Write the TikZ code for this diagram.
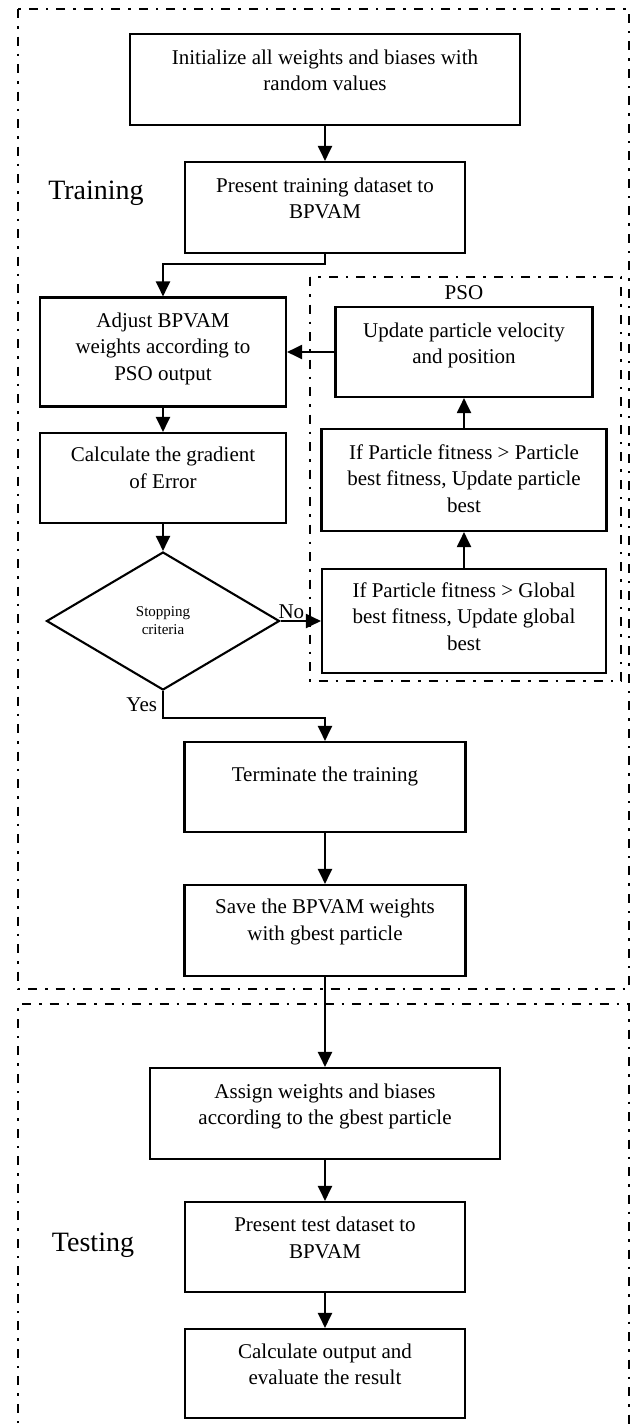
\documentclass[tikz,border=0pt]{standalone}
\usepackage{fontspec}
\setmainfont{Liberation Serif}
\usepackage{tikz}
\usetikzlibrary{arrows.meta,positioning,calc,shapes.geometric}
\tikzset{
  stepbox/.style={draw, line width=2.1pt, align=center, minimum width=280pt, minimum height=91pt, inner sep=2pt, font=\fontsize{21}{26.5}\selectfont},
  lift/.style={text depth=#1},
  decbox/.style={draw, diamond, line width=2.1pt, align=center, minimum width=233pt, minimum height=138pt, inner sep=0pt, font=\fontsize{15}{18}\selectfont},
  groupframe/.style={line width=2pt, dash pattern=on 9pt off 8pt on 2.5pt off 8pt},
  cline/.style={-{Triangle[length=15pt, width=14pt]}, line width=2pt},
  lbl/.style={font=\fontsize{21}{26}\selectfont, inner sep=1pt},
  phase/.style={font=\fontsize{28}{32}\selectfont},
}

\begin{document}
\begin{tikzpicture}[>=Latex, x=1pt, y=-1pt]
  \useasboundingbox (0,0) rectangle (635,1427);

  % training / testing / PSO frames
  \draw[groupframe] (18,9) rectangle (629,989);
  \draw[groupframe] (18,1440) -- (18,1004) -- (629,1004) -- (629,1440);
  \draw[groupframe] (310,277) rectangle (621,681);

  \node[phase] (train) at (96,193) {Training};
  \node[phase] (test) at (93,1245) {Testing};
  \node[lbl] (pso) at (464,293) {PSO};

  \node[stepbox, minimum width=390pt, lift=19pt] (init) at (325,79.5) {Initialize all weights and biases with\\random values};
  \node[stepbox, lift=19pt] (pres) at (325,207.5) {Present training dataset to\\BPVAM};
  \node[stepbox, minimum width=246pt, minimum height=109pt, lift=11pt] (adj) at (163,352) {Adjust BPVAM\\weights according to\\PSO output};
  \node[stepbox, minimum width=246pt, minimum height=90pt, lift=21pt] (grad) at (163,478) {Calculate the gradient\\of Error};
  \node[decbox] (stop) at (163,621) {Stopping\\criteria};

  \node[stepbox, minimum width=257pt, minimum height=90pt, lift=18pt] (upd) at (464,352) {Update particle velocity\\and position};
  \node[stepbox, minimum width=285pt, minimum height=102pt, lift=3.5pt] (pbest) at (464,480) {If Particle fitness > Particle\\best fitness, Update particle\\best};
  \node[stepbox, minimum width=284pt, minimum height=104pt, lift=9pt] (gbest) at (464,621) {If Particle fitness > Global\\best fitness, Update global\\best};

  \node[stepbox, minimum width=281pt, minimum height=90pt, lift=25pt] (term) at (325,787) {Terminate the training};
  \node[stepbox, minimum width=281pt, lift=22pt] (save) at (325,930.5) {Save the BPVAM weights\\with gbest particle};
  \node[stepbox, minimum width=350pt, lift=19pt] (assign) at (325,1113.5) {Assign weights and biases\\according to the gbest particle};
  \node[stepbox, minimum height=90pt, lift=19pt] (ptest) at (325,1247) {Present test dataset to\\BPVAM};
  \node[stepbox, minimum height=89pt, lift=19pt] (outp) at (325,1373.5) {Calculate output and\\evaluate the result};

  \foreach \a/\b in {init/pres, upd/adj, adj/grad, grad/stop, gbest/pbest, pbest/upd, term/save, save/assign, assign/ptest, ptest/outp} {
    \draw[cline] (\a) -- (\b);
  }
  \draw[cline] (pres.south) -- ++(0,10) -| (adj.north);
  \draw[cline] (stop.east) -- node[lbl, pos=0, anchor=south west, xshift=-4pt]{No} (gbest.west);
  \draw[cline] (stop.south) -- node[lbl, left, xshift=-4pt]{Yes} ++(0,27) -| (term.north);
\end{tikzpicture}
\end{document}
